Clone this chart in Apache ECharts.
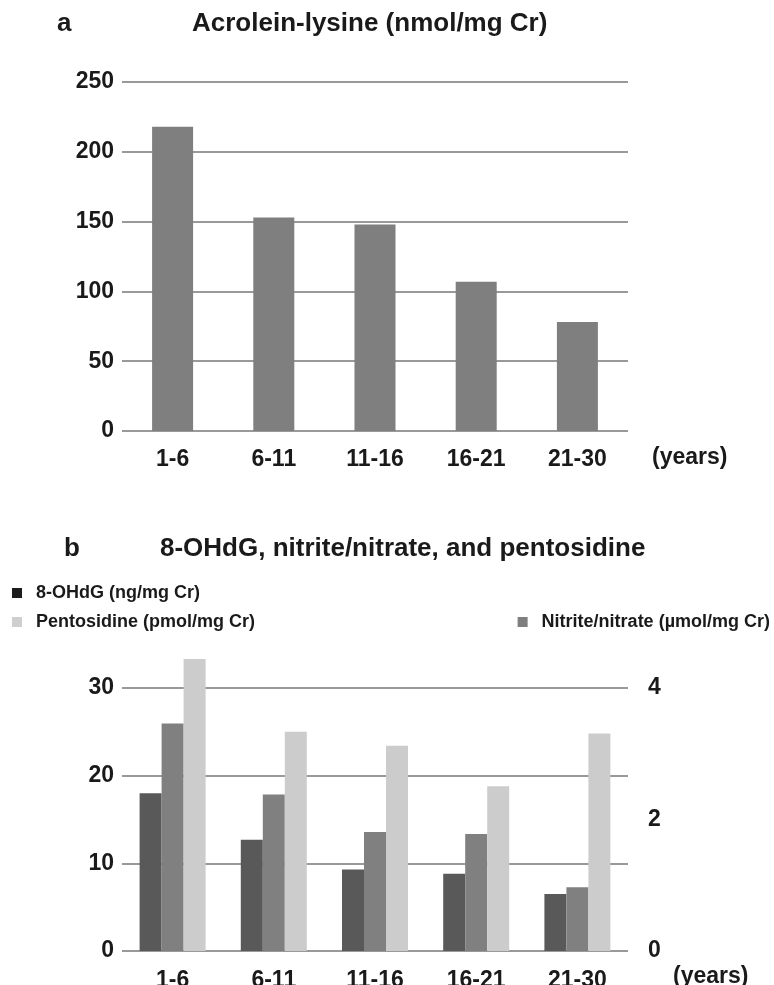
<!DOCTYPE html>
<html>
<head>
<meta charset="utf-8">
<script src="https://cdn.jsdelivr.net/npm/echarts@6/dist/echarts.min.js"></script>
<style>
html,body{margin:0;padding:0;background:#fff;}
#c{width:774px;height:985px;}
</style>
</head>
<body>
<div id="c"></div>
<script>
const categories = ['1-6', '6-11', '11-16', '16-21', '21-30'];
const acroleinLysine = [218, 153, 148, 107, 78];
const ohdg = [18.0, 12.7, 9.3, 8.8, 6.5];
const nitrite = [3.46, 2.38, 1.81, 1.78, 0.97];
const pentosidine = [33.3, 25.0, 23.4, 18.8, 24.8];
const titleA = 'Acrolein-lysine (nmol/mg Cr)';
const titleB = '8-OHdG, nitrite/nitrate, and pentosidine';
const nameOhdg = '8-OHdG (ng/mg Cr)';
const namePento = 'Pentosidine (pmol/mg Cr)';
const nameNitrite = 'Nitrite/nitrate (\u00b5mol/mg Cr)';
const unitName = '(years)';

const FONT = 'Liberation Sans, Arial, sans-serif';
const TXT = '#1a1a1a';
const GRIDC = '#999999';

const chart = echarts.init(document.getElementById('c'), null, {renderer: 'canvas'});

const labelStyle = {color: TXT, fontSize: 23, fontWeight: 'bold', fontFamily: FONT};
const titleStyle = {color: TXT, fontSize: 26, fontWeight: 'bold', fontFamily: FONT};

chart.setOption({
  backgroundColor: '#fff',
  animation: false,
  title: [
    {text: 'a', left: 57, top: 11, padding: 0, textStyle: titleStyle},
    {text: titleA, left: 192, top: 11, padding: 0, textStyle: titleStyle},
    {text: 'b', left: 64, top: 536, padding: 0, textStyle: titleStyle},
    {text: titleB, left: 160, top: 536, padding: 0, textStyle: titleStyle}
  ],
  legend: [
    {
      orient: 'vertical', left: 12, top: 584, padding: 0, itemGap: 11,
      icon: 'rect', itemWidth: 10, itemHeight: 10,
      textStyle: {color: TXT, fontSize: 18, fontWeight: 'bold', fontFamily: FONT, padding: [0, 0, 0, 9]},
      data: [
        {name: nameOhdg, itemStyle: {color: '#1c1c1c'}},
        {name: namePento, itemStyle: {color: '#cfcfcf'}}
      ]
    },
    {
      orient: 'horizontal', right: 4, top: 613, padding: 0,
      icon: 'rect', itemWidth: 10, itemHeight: 10,
      textStyle: {color: TXT, fontSize: 18, fontWeight: 'bold', fontFamily: FONT, padding: [0, 0, 0, 9]},
      data: [{name: nameNitrite, itemStyle: {color: '#7f7f7f'}}]
    }
  ],
  grid: [
    {left: 122, right: 146, top: 82, height: 349, outerBoundsMode: 'none', containLabel: false},
    {left: 122, right: 146, top: 688, height: 263, outerBoundsMode: 'none', containLabel: false}
  ],
  xAxis: [
    {
      type: 'category', gridIndex: 0, data: categories,
      axisLine: {show: false}, axisTick: {show: false},
      axisLabel: Object.assign({margin: 17}, labelStyle),
      name: '\n' + unitName, nameLocation: 'end', nameGap: 24,
      nameTextStyle: Object.assign({lineHeight: 54}, labelStyle)
    },
    {
      type: 'category', gridIndex: 1, data: categories,
      axisLine: {show: false}, axisTick: {show: false},
      axisLabel: Object.assign({margin: 18}, labelStyle),
      name: '\n' + unitName, nameLocation: 'end', nameGap: 45,
      nameTextStyle: Object.assign({lineHeight: 52}, labelStyle)
    }
  ],
  yAxis: [
    {
      type: 'value', gridIndex: 0, min: 0, max: 250, interval: 50,
      axisLine: {show: false}, axisTick: {show: false},
      axisLabel: Object.assign({margin: 8}, labelStyle),
      splitLine: {show: true, lineStyle: {color: GRIDC, width: 2}}
    },
    {
      type: 'value', gridIndex: 1, min: 0, max: 30, interval: 10,
      axisLine: {show: false}, axisTick: {show: false},
      axisLabel: Object.assign({margin: 8}, labelStyle),
      splitLine: {show: true, lineStyle: {color: GRIDC, width: 2}}
    },
    {
      type: 'value', gridIndex: 1, position: 'right', min: 0, max: 4, interval: 2,
      axisLine: {show: false}, axisTick: {show: false},
      axisLabel: Object.assign({margin: 20}, labelStyle),
      splitLine: {show: false}
    }
  ],
  series: [
    {
      type: 'bar', name: titleA, xAxisIndex: 0, yAxisIndex: 0,
      data: acroleinLysine, barWidth: 41,
      itemStyle: {color: '#7f7f7f'}
    },
    {
      type: 'bar', name: nameOhdg, xAxisIndex: 1, yAxisIndex: 1,
      data: ohdg, barWidth: 22, barGap: '0%', clip: false,
      itemStyle: {color: '#595959'}
    },
    {
      type: 'bar', name: nameNitrite, xAxisIndex: 1, yAxisIndex: 2,
      data: nitrite, barWidth: 22, barGap: '0%', clip: false,
      itemStyle: {color: '#808080'}
    },
    {
      type: 'bar', name: namePento, xAxisIndex: 1, yAxisIndex: 1,
      data: pentosidine, barWidth: 22, barGap: '0%', clip: false,
      itemStyle: {color: '#cccccc'}
    }
  ]
});
</script>
</body>
</html>
